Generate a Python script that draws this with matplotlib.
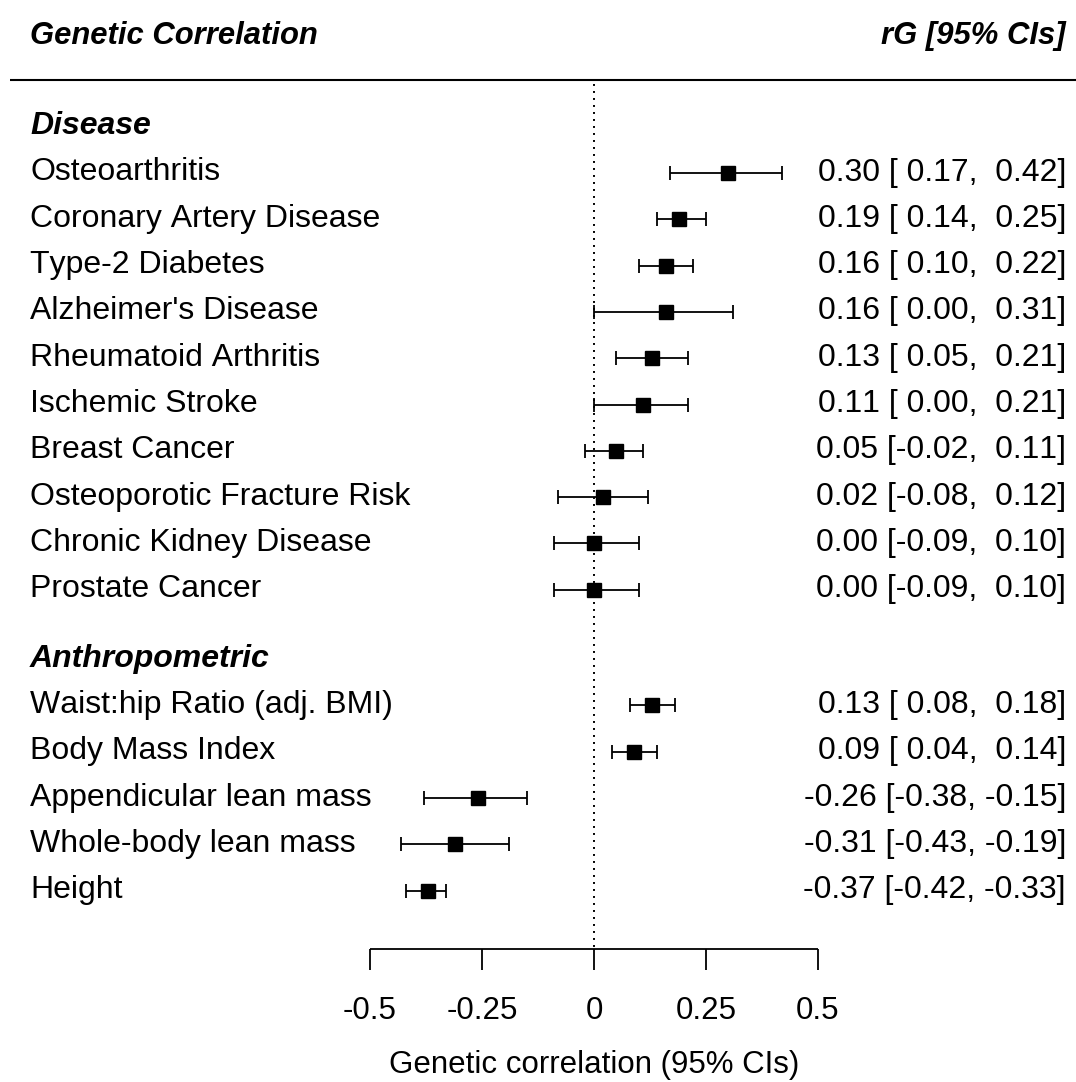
import numpy as np
import matplotlib
matplotlib.use("Agg")
import matplotlib.pyplot as plt

plt.rcParams['font.family'] = ['Liberation Sans', 'DejaVu Sans']
plt.rcParams['text.kerning_factor'] = 6

#=====================================================================
#     Data
#
disease_labels = ["Osteoarthritis", "Coronary Artery Disease", "Type-2 Diabetes",
                  "Alzheimer's Disease", "Rheumatoid Arthritis", "Ischemic Stroke",
                  "Breast Cancer", "Osteoporotic Fracture Risk",
                  "Chronic Kidney Disease", "Prostate Cancer"]
disease_est = [0.30, 0.19, 0.16, 0.16, 0.13, 0.11, 0.05, 0.02, 0.00, 0.00]
disease_lo  = [0.17, 0.14, 0.10, 0.00, 0.05, 0.00, -0.02, -0.08, -0.09, -0.09]
disease_hi  = [0.42, 0.25, 0.22, 0.31, 0.21, 0.21, 0.11, 0.12, 0.10, 0.10]

anthro_labels = ["Waist:hip Ratio (adj. BMI)", "Body Mass Index",
                 "Appendicular lean mass", "Whole-body lean mass", "Height"]
anthro_est = [0.13, 0.09, -0.26, -0.31, -0.37]
anthro_lo  = [0.08, 0.04, -0.38, -0.43, -0.42]
anthro_hi  = [0.18, 0.14, -0.15, -0.19, -0.33]

xticks      = [-0.5, -0.25, 0, 0.25, 0.5]
xticklabels = ["-0.5", "-0.25", "0", "0.25", "0.5"]

#=====================================================================
#     Layout (pixel based)
#
W, H    = 1076, 1082
zero_px = 594.0          # pixel column of rG = 0
unit_px = 448.0          # pixels per unit of rG
row0    = 173.0          # first disease row
step    = 46.3           # row spacing
fs      = 23             # row text
fs_hdr  = 22.3           # top header
fs_ax   = 22.5           # axis text

def px(x):
    return (x - zero_px) / unit_px

def rowy(k):
    return row0 + step * k

fig = plt.figure(figsize=(W / 100, H / 100), dpi=100)
ax = fig.add_axes([0, 0, 1, 1])
ax.set_xlim(px(0), px(W))
ax.set_ylim(H, 0)
ax.axis('off')

left_x  = px(30)
right_x = px(1066)
base_off = 7.5

# header
ax.text(left_x, rowy(-3) + 10, "Genetic Correlation", fontsize=fs_hdr, fontweight='bold',
        style='italic', ha='left', va='baseline')
ax.text(right_x, rowy(-3) + 10, "rG [95% CIs]", fontsize=fs_hdr, fontweight='bold',
        style='italic', ha='right', va='baseline')
ax.plot([px(10), px(W)], [rowy(-2), rowy(-2)], color='black', lw=1.5,
        solid_capstyle='butt')

# reference line at zero
ax.plot([0, 0], [84, rowy(16.75)], color='black', lw=1.4, linestyle=(0, (1, 2.6)))

def draw_group(title, k_title, labels, est, lo, hi, k_start):
    ax.text(left_x, rowy(k_title) + base_off, title, fontsize=fs, fontweight='bold',
            style='italic', ha='left', va='baseline')
    ys = np.array([rowy(k_start + i) for i in range(len(labels))])
    est = np.array(est)
    lo = np.array(lo)
    hi = np.array(hi)
    ax.errorbar(est, ys, xerr=[est - lo, hi - est], fmt='s', color='black',
                ms=10, mec='black', mfc='black', elinewidth=1.3, capsize=5,
                capthick=1.3)
    for y, lab, e, l, h in zip(ys, labels, est, lo, hi):
        ax.text(left_x, y + base_off, lab, fontsize=fs, ha='left', va='baseline')
        ax.text(right_x, y + base_off, f"{e:.2f} [{l:5.2f}, {h:5.2f}]",
                fontsize=fs, ha='right', va='baseline')

draw_group("Disease", -1, disease_labels, disease_est, disease_lo, disease_hi, 0)
draw_group("Anthropometric", 10.5, anthro_labels, anthro_est, anthro_lo, anthro_hi, 11.5)

# x axis
ay = rowy(16.75)
ax.plot([xticks[0], xticks[-1]], [ay, ay], color='black', lw=1.3, solid_capstyle='butt')
for t, tl in zip(xticks, xticklabels):
    ax.plot([t, t], [ay, ay + 21], color='black', lw=1.3, solid_capstyle='butt')
    ax.text(t, 1019, tl, fontsize=fs_ax, ha='center', va='baseline')
ax.text(0, 1073, "Genetic correlation (95% CIs)", fontsize=fs_ax, ha='center', va='baseline')

plt.savefig('out.png', dpi=100, facecolor='white')
